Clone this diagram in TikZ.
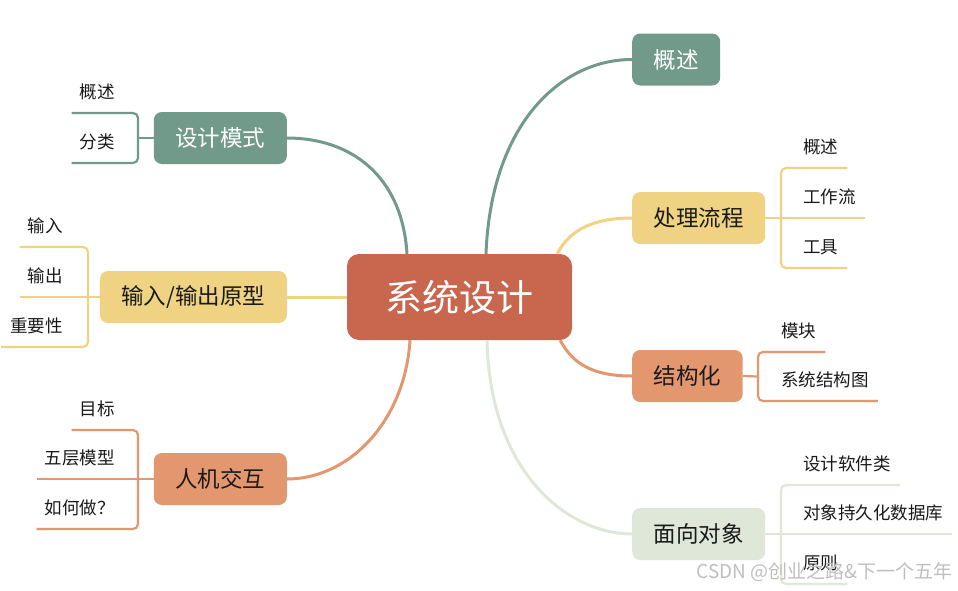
\documentclass[tikz,border=0pt]{standalone}
\usepackage{fontspec}
\setmainfont{Noto Sans CJK SC}
\usetikzlibrary{calc}
\definecolor{cteal}{HTML}{729A8B}
\definecolor{cyel}{HTML}{F0D382}
\definecolor{corg}{HTML}{E3976F}
\definecolor{cgrn}{HTML}{DFE8D8}
\definecolor{cred}{HTML}{C8664E}
\definecolor{ctxt}{HTML}{1A1A1A}
\begin{document}
\begin{tikzpicture}[x=1pt, y=-1pt,
	root/.style = {rounded corners=12pt, fill=cred, text=white, minimum width=225pt, minimum height=86pt, font=\fontsize{37}{44}\selectfont},
	topic/.style = {rounded corners=8pt, fill=#1, text=ctxt, inner xsep=21.5pt, minimum height=52pt, font=\fontsize{22.5}{27}\selectfont},
	leaf/.style = {inner sep=0pt, text=ctxt, font=\fontsize{17.5}{21}\selectfont},
	branch/.style = {draw=#1, line width=3pt},
	twig/.style = {draw=#1, line width=2.2pt, rounded corners=5pt}]

	\useasboundingbox (0,0) rectangle (958,590);
	\fill[white] (0,0) rectangle (958,590);

	\node[root] (sys) at (459.5,297) {系统设计};

	% topics
	\node[topic=cteal, text=white, anchor=east] (dm) at (287,138) {设计模式};
	\node[topic=cyel, anchor=east] (io) at (287,297) {输入/输出原型};
	\node[topic=corg, anchor=east] (hci) at (287,479) {人机交互};
	\node[topic=cteal, text=white, anchor=west] (gs) at (632,59.5) {概述};
	\node[topic=cyel, anchor=west] (lc) at (632,218) {处理流程};
	\node[topic=corg, anchor=west] (jg) at (632,376) {结构化};
	\node[topic=cgrn, anchor=west] (oo) at (632,534) {面向对象};

	\draw[branch=cteal] ($(sys.north)+(-52.5,0)$) .. controls +(-5,-79) and +(63,0) .. (dm.east);
	\draw[branch=cyel] (sys.west) -- (io.east);
	\draw[branch=corg] ($(sys.south)+(-49.5,0)$) .. controls +(-5,80) and +(63,0) .. (hci.east);
	\draw[branch=cteal] ($(sys.north)+(26.5,0)$) .. controls +(5,-129) and +(-72,0) .. (gs.west);
	\draw[branch=cyel] ($(sys.north east)+(-15,0)$) .. controls +(13,-25) and +(-37,0) .. (lc.west);
	\draw[branch=corg] ($(sys.south east)+(-12,0)$) .. controls +(13,25) and +(-37,0) .. (jg.west);
	\draw[branch=cgrn] ($(sys.south)+(27.5,0)$) .. controls +(3,135) and +(-62,0) .. (oo.west);

	% leaves, left
	\coordinate (dmj) at (138,138);
	\coordinate (ioj) at (88,297);
	\coordinate (hcj) at (138,479);
	\node[leaf, anchor=east] (dm1) at (115,92) {概述};
	\node[leaf, anchor=east] (dm2) at (115,142) {分类};
	\node[leaf, anchor=east] (io1) at (63,226) {输入};
	\node[leaf, anchor=east] (io2) at (63,276) {输出};
	\node[leaf, anchor=east] (io3) at (63,326) {重要性};
	\node[leaf, anchor=east] (hc1) at (115,409) {目标};
	\node[leaf, anchor=east] (hc2) at (115,458) {五层模型};
	\node[leaf, anchor=east] (hc3) at (115,508) {如何做？};

	\draw[twig=cteal] (dm.west) -- (dmj);
	\draw[twig=cteal] ($(dm1.west)+(-8,21)$) -| (dmj) |- ($(dm2.west)+(-8,21)$);
	\draw[twig=cyel] (io.west) -- (ioj) -- ($(io2.west)+(-8,21)$);
	\draw[twig=cyel] ($(io1.west)+(-8,21)$) -| (ioj) |- ($(io3.west)+(-9,21)$);
	\draw[twig=corg] (hci.west) -- (hcj) -- ($(hc2.west)+(-8,21)$);
	\draw[twig=corg] ($(hc1.west)+(-8,21)$) -| (hcj) |- ($(hc3.west)+(-8,21)$);

	% leaves, right
	\coordinate (lcj) at (781,218);
	\coordinate (jgj) at (758,376.5);
	\coordinate (ooj) at (781,534);
	\node[leaf, anchor=west] (lc1) at (803,147) {概述};
	\node[leaf, anchor=west] (lc2) at (803,197) {工作流};
	\node[leaf, anchor=west] (lc3) at (803,247) {工具};
	\node[leaf, anchor=west] (jg1) at (781,331) {模块};
	\node[leaf, anchor=west] (jg2) at (781,380) {系统结构图};
	\node[leaf, anchor=west] (oo1) at (803,464) {设计软件类};
	\node[leaf, anchor=west] (oo2) at (803,513) {对象持久化数据库};
	\node[leaf, anchor=west] (oo3) at (803,563) {原则};

	\draw[twig=cyel] (lc.east) -- (lcj) -- ($(lc2.east)+(9,21)$);
	\draw[twig=cyel] ($(lc1.east)+(9,21)$) -| (lcj) |- ($(lc3.east)+(9,21)$);
	\draw[twig=corg] (jg.east) -- (jgj);
	\draw[twig=corg] ($(jg1.east)+(9,21)$) -| (jgj) |- ($(jg2.east)+(9,21)$);
	\draw[twig=cgrn] (oo.east) -- (ooj) -- ($(oo2.east)+(9,21)$);
	\draw[twig=cgrn] ($(oo1.east)+(9,21)$) -| (ooj) |- ($(oo3.east)+(9,21)$);

	\node[anchor=east, text=gray!50, font=\fontsize{19}{22}\selectfont] (wm) at (956,572) {CSDN @创业之路\&下一个五年};
\end{tikzpicture}
\end{document}
